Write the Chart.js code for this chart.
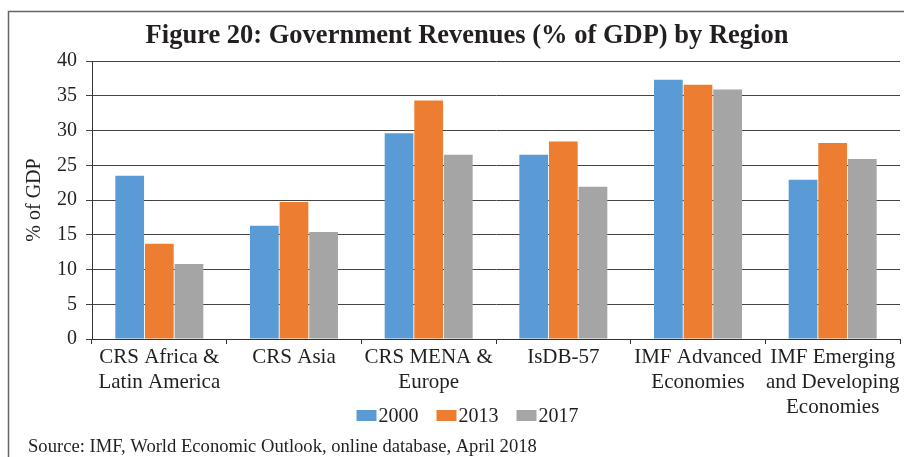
<!DOCTYPE html>
<html>
<head>
<meta charset="utf-8">
<script src="https://cdn.jsdelivr.net/npm/chart.js@4"></script>
<style>
  html, body { margin: 0; padding: 0; background: #fff; }
  #wrap { width: 904px; height: 457px; position: relative; }
</style>
</head>
<body>
<div id="wrap"><canvas id="chart" width="904" height="457"></canvas></div>
<script>
const regions = [
  ["CRS Africa &", "Latin America"],
  "CRS Asia",
  ["CRS MENA &", "Europe"],
  "IsDB-57",
  ["IMF Advanced", "Economies"],
  ["IMF Emerging", "and Developing", "Economies"]
];
const years = ["2000", "2013", "2017"];
const rev2000 = [23.5, 16.3, 29.6, 26.5, 37.3, 22.9];
const rev2013 = [13.7, 19.7, 34.3, 28.4, 36.6, 28.2];
const rev2017 = [10.8, 15.4, 26.5, 21.9, 35.9, 25.9];
const yTicks = [0, 5, 10, 15, 20, 25, 30, 35, 40];

const titleText = "Figure 20: Government Revenues (% of GDP) by Region";
const sourceText = "Source: IMF, World Economic Outlook, online database, April 2018";
const colors = ["#5b9bd5", "#ed7d31", "#a5a5a5"];
const ink = "#231f20";
const serif = "'Liberation Serif', 'Times New Roman', serif";

// frame, title, legend and source line
const decorations = {
  id: "decorations",
  beforeDraw(chart) {
    const ctx = chart.ctx;
    ctx.save();
    ctx.strokeStyle = "#666";
    ctx.lineWidth = 1.5;
    ctx.beginPath();
    ctx.moveTo(8.5, 457);
    ctx.lineTo(8.5, 11.5);
    ctx.lineTo(904, 11.5);
    ctx.stroke();
    ctx.restore();
  },
  afterDraw(chart) {
    const ctx = chart.ctx;
    ctx.save();
    ctx.fillStyle = ink;
    ctx.textBaseline = "alphabetic";

    ctx.font = "bold 26.5px " + serif;
    ctx.textAlign = "center";
    ctx.fillText(titleText, 467, 43);

    // legend
    ctx.font = "20px " + serif;
    ctx.textAlign = "left";
    const boxW = 20, boxH = 11, gap = 2, spacing = 18;
    const items = chart.data.datasets.map((ds) => ({
      label: ds.label,
      color: ds.backgroundColor,
      w: boxW + gap + ctx.measureText(ds.label).width
    }));
    const total = items.reduce((s, it) => s + it.w, 0) + spacing * (items.length - 1);
    let x = 467.5 - total / 2;
    items.forEach((it) => {
      ctx.fillStyle = it.color;
      ctx.fillRect(x, 410, boxW, boxH);
      ctx.fillStyle = ink;
      ctx.fillText(it.label, x + boxW + gap, 422);
      x += it.w + spacing;
    });

    ctx.font = "18.6px " + serif;
    ctx.fillText(sourceText, 28, 452);
    ctx.restore();
  }
};

new Chart(document.getElementById("chart").getContext("2d"), {
  type: "bar",
  data: {
    labels: regions,
    datasets: [
      { label: years[0], data: rev2000, backgroundColor: colors[0] },
      { label: years[1], data: rev2013, backgroundColor: colors[1] },
      { label: years[2], data: rev2017, backgroundColor: colors[2] }
    ]
  },
  options: {
    responsive: false,
    animation: false,
    layout: { padding: { top: 61, right: 4, bottom: 0, left: 0 } },
    datasets: {
      bar: { categoryPercentage: 0.66, barPercentage: 0.97 }
    },
    plugins: {
      legend: { display: false },
      title: { display: false },
      tooltip: { enabled: false }
    },
    scales: {
      x: {
        afterFit(scale) { scale.height = 118; },
        grid: {
          offset: true,
          drawOnChartArea: false,
          drawTicks: true,
          tickLength: 5,
          color: "#333",
          lineWidth: 1
        },
        border: { display: true, color: "#333", width: 1 },
        ticks: {
          color: ink,
          padding: 1,
          maxRotation: 0,
          autoSkip: false,
          font: { family: serif, size: 21, lineHeight: 1.19 }
        }
      },
      y: {
        min: 0,
        max: 40,
        afterFit(scale) { scale.width = 92; },
        afterBuildTicks(scale) { scale.ticks = yTicks.map((v) => ({ value: v })); },
        grid: { color: "#444", lineWidth: 1, tickLength: 6 },
        border: { display: true, color: "#333", width: 1 },
        ticks: {
          color: ink,
          padding: 9,
          font: { family: serif, size: 20 }
        },
        title: {
          display: true,
          text: "% of GDP",
          color: ink,
          padding: { top: 23, bottom: 0 },
          font: { family: serif, size: 20 }
        }
      }
    }
  },
  plugins: [decorations]
});
</script>
</body>
</html>
